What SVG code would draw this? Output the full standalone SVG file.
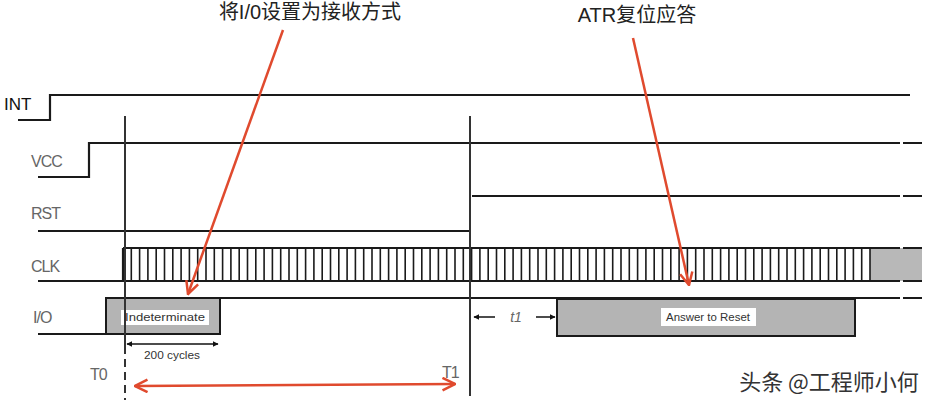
<svg xmlns="http://www.w3.org/2000/svg" width="940" height="406" viewBox="0 0 940 406">
<style>
.sig{fill:none;stroke:#1a1a1a;stroke-width:2.2}
.tick{fill:none;stroke:#1a1a1a;stroke-width:1.6}
.vline{fill:none;stroke:#333;stroke-width:2}
.lbl{font-family:"Liberation Sans",Arial,sans-serif;font-size:16px;fill:#666;letter-spacing:-1px}
.cn{font-family:"Liberation Sans","Noto Sans CJK SC",sans-serif;font-size:20px;fill:#222}
.red{fill:none;stroke:#e04a2e;stroke-width:2.5}
.small{font-family:"Liberation Sans Narrow","Liberation Sans",sans-serif;font-size:10px;fill:#333}
.grey{fill:#b4b4b4;stroke:#1a1a1a;stroke-width:2}
</style>
<defs>
<marker id="redhead" viewBox="0 0 12 12" refX="11" refY="6" markerWidth="6" markerHeight="6" orient="auto-start-reverse" markerUnits="strokeWidth">
<path d="M1,1 L11,6 L1,11" fill="none" stroke="#e04a2e" stroke-width="2"/>
</marker>
<marker id="blk" viewBox="0 0 10 10" refX="9" refY="5" markerWidth="4" markerHeight="4" orient="auto-start-reverse" markerUnits="strokeWidth">
<path d="M0,0 L10,5 L0,10 z" fill="#111"/>
</marker>
</defs>
<rect width="940" height="406" fill="#fff"/>

<g id="INT">
<text x="4" y="110" font-family="Liberation Sans,Arial,sans-serif" font-size="17" fill="#111">INT</text>
<path class="sig" d="M18,120 H50 V95 H910" stroke-width="2.6"/>
</g>

<g id="VCC">
<text class="lbl" x="31" y="167">VCC</text>
<path class="sig" d="M38,177 H89 V143 H900 M903,143 H922"/>
</g>

<g id="RST">
<text class="lbl" x="31" y="219">RST</text>
<path class="sig" d="M38,231 H470 M472,196 H900 M903,196 H922"/>
</g>

<g id="CLK">
<text class="lbl" x="31" y="272">CLK</text>
<rect x="870" y="248" width="52" height="33" fill="#b8b8b8"/>
<path class="sig" d="M38,281 H900 M903,281 H922 M123,248 H900 M903,248 H922"/>
<path class="tick" d="M123,248V281M131.3,248V281M139.6,248V281M147.9,248V281M156.2,248V281M164.5,248V281M172.8,248V281M181.1,248V281M189.4,248V281M197.7,248V281M206,248V281M214.3,248V281M222.6,248V281M230.9,248V281M239.2,248V281M247.5,248V281M255.8,248V281M264.1,248V281M272.4,248V281M280.7,248V281M289,248V281M297.3,248V281M305.6,248V281M313.9,248V281M322.2,248V281M330.5,248V281M338.8,248V281M347.1,248V281M355.4,248V281M363.7,248V281M372,248V281M380.3,248V281M388.6,248V281M396.9,248V281M405.2,248V281M413.5,248V281M421.8,248V281M430.1,248V281M438.4,248V281M446.7,248V281M455,248V281M463.3,248V281M471.6,248V281M479.9,248V281M488.2,248V281M496.5,248V281M504.8,248V281M513.1,248V281M521.4,248V281M529.7,248V281M538,248V281M546.3,248V281M554.6,248V281M562.9,248V281M571.2,248V281M579.5,248V281M587.8,248V281M596.1,248V281M604.4,248V281M612.7,248V281M621,248V281M629.3,248V281M637.6,248V281M645.9,248V281M654.2,248V281M662.5,248V281M670.8,248V281M679.1,248V281M687.4,248V281M695.7,248V281M704,248V281M712.3,248V281M720.6,248V281M728.9,248V281M737.2,248V281M745.5,248V281M753.8,248V281M762.1,248V281M770.4,248V281M778.7,248V281M787,248V281M795.3,248V281M803.6,248V281M811.9,248V281M820.2,248V281M828.5,248V281M836.8,248V281M845.1,248V281M853.4,248V281M861.7,248V281M870,248V281"/>
<path class="sig" d="M123,248 V281" stroke-width="3"/>
</g>

<g id="IO">
<text class="lbl" x="33" y="323">I/O</text>
<path class="sig" d="M38,334 H106 M220,298 H900 M903,298 H922"/>
<rect class="grey" x="106" y="298" width="114" height="36"/>
<rect x="121" y="310" width="88" height="15" fill="#fff"/>
<text class="small" x="165" y="321" text-anchor="middle" textLength="80" lengthAdjust="spacingAndGlyphs">Indeterminate</text>
<rect class="grey" x="557" y="299" width="298" height="37"/>
<rect x="661" y="308" width="95" height="18" fill="#fff"/>
<text class="small" x="708" y="321" text-anchor="middle" textLength="84" lengthAdjust="spacingAndGlyphs">Answer to Reset</text>
</g>

<g id="T0">
<path class="vline" d="M125,116 V346"/>
<path class="vline" d="M125,346 V400" stroke-dasharray="8,5"/>
<text class="lbl" x="90" y="380" font-size="15">T0</text>
</g>

<g id="T1">
<path class="vline" d="M470,116 V396"/>
<text class="lbl" x="442" y="378" font-size="15">T1</text>
</g>

<g id="labels">
<text class="cn" x="310" y="19" text-anchor="middle">将I/0设置为接收方式</text>
<text class="cn" x="637" y="22" text-anchor="middle">ATR复位应答</text>
<text x="829" y="390" text-anchor="middle" font-family="'Noto Sans CJK SC',sans-serif" font-size="22" fill="#333">头条 @工程师小何</text>
</g>

<g id="connectors">
<path class="red" d="M283,30 L188,294" marker-end="url(#redhead)"/>
<path class="red" d="M633,38 L689,285" marker-end="url(#redhead)"/>
<path class="red" d="M135,386 L455,384" marker-start="url(#redhead)" marker-end="url(#redhead)"/>
<path d="M127,344 H218" stroke="#111" stroke-width="1.5" fill="none" marker-start="url(#blk)" marker-end="url(#blk)"/>
<text class="small" x="172" y="359" text-anchor="middle" fill="#555" textLength="56" lengthAdjust="spacingAndGlyphs">200 cycles</text>
<path d="M495,317 H474" stroke="#111" stroke-width="1.5" fill="none" marker-end="url(#blk)"/>
<path d="M536,317 H555" stroke="#111" stroke-width="1.5" fill="none" marker-end="url(#blk)"/>
<text x="516" y="322" text-anchor="middle" font-family="Liberation Sans,sans-serif" font-style="italic" font-size="14" fill="#666">t1</text>
</g>
</svg>
